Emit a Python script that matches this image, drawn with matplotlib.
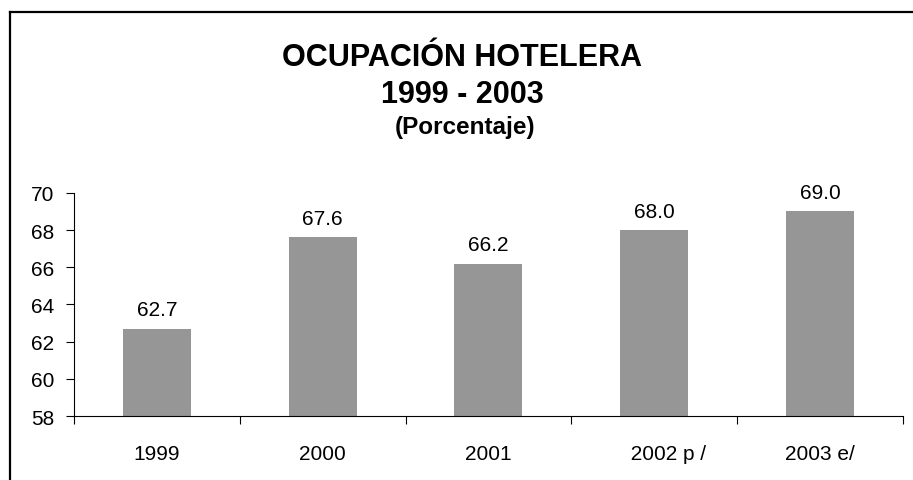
import matplotlib
matplotlib.use("Agg")
import matplotlib.pyplot as plt
from matplotlib.lines import Line2D

plt.rcParams['font.family'] = ['Liberation Sans', 'DejaVu Sans']

years = ['1999', '2000', '2001', '     2002 p /', '2003 e/']
ocupacion = [62.7, 67.6, 66.2, 68.0, 69.0]
yticks = [58, 60, 62, 64, 66, 68, 70]

fig = plt.figure(figsize=(9.13, 4.81), dpi=100)
ax = fig.add_axes([0.081, 0.133, 0.908, 0.464])

pos = list(range(len(years)))
ax.bar(pos, ocupacion, width=0.41, color='#969696', zorder=2)

for x, v in zip(pos, ocupacion):
    ax.annotate(f"{v:.1f}", (x, v), textcoords="offset points", xytext=(0, 9.5),
                ha='center', va='baseline', fontsize=15)

ax.set_ylim(58, 70)
ax.set_yticks(yticks)
ax.set_xlim(-0.5, len(years) - 0.5)
ax.set_xticks([p + 0.5 for p in [-1] + pos])
ax.set_xticklabels([])
ax.set_xticks(pos, minor=True)
ax.set_xticklabels(years, minor=True)
ax.tick_params(axis='x', which='minor', length=0, pad=20, labelsize=15)
ax.tick_params(axis='x', which='major', length=6, direction='out')
ax.tick_params(axis='y', length=6, pad=8, labelsize=15)

for s in ['top', 'right']:
    ax.spines[s].set_visible(False)

# titulo
fig.text(0.506, 0.863, 'OCUPACIÓN HOTELERA', ha='center', va='baseline',
         fontsize=22, fontweight='bold')
fig.text(0.506, 0.786, '1999 - 2003', ha='center', va='baseline',
         fontsize=22, fontweight='bold')
fig.text(0.509, 0.7214, '(Porcentaje)', ha='center', va='baseline',
         fontsize=17.5, fontweight='bold')

# marco
fig.add_artist(Line2D([10 / 913, 1.0], [1 - 13 / 481] * 2, color='black', lw=1.6))
fig.add_artist(Line2D([10 / 913] * 2, [0.0, 1 - 13 / 481], color='black', lw=1.6))

fig.savefig('out.png', dpi=100)
